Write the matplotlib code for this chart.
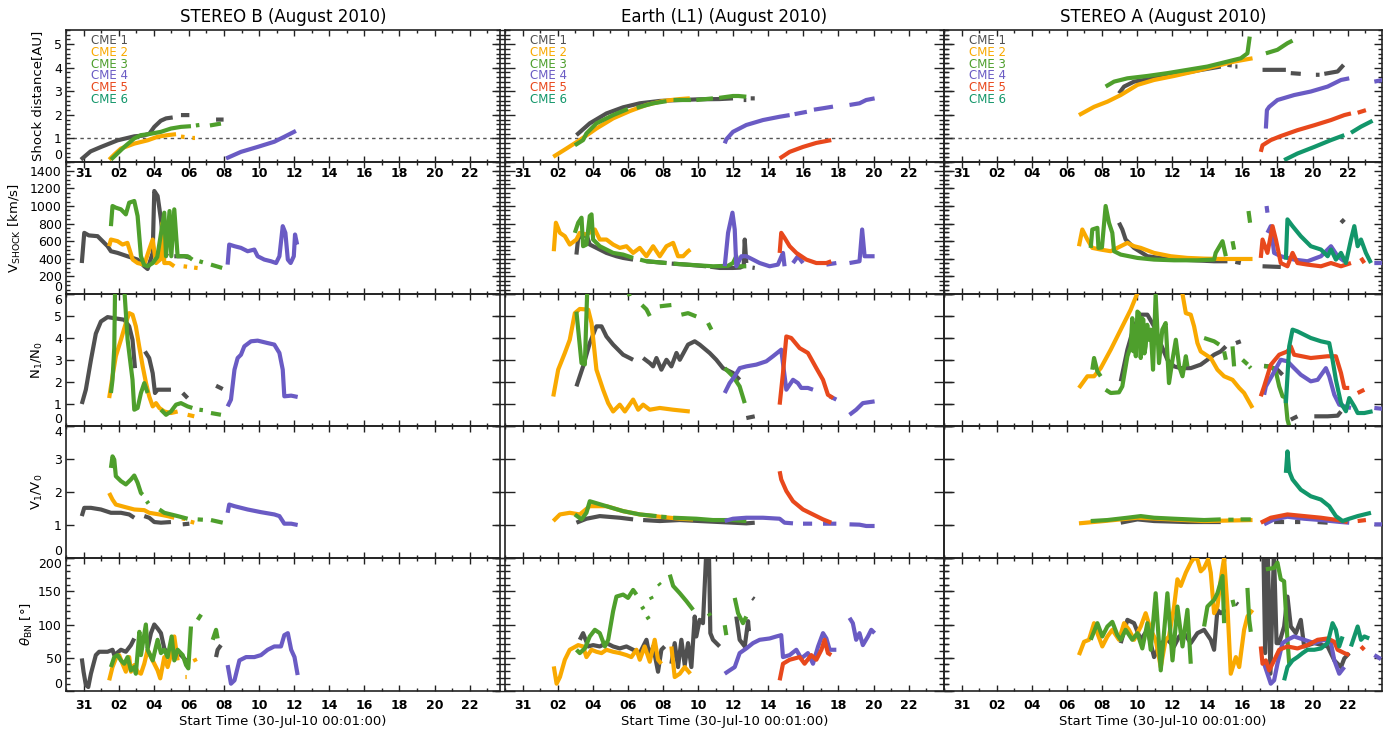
import numpy as np
import matplotlib
matplotlib.use("Agg")
import matplotlib.pyplot as plt
from matplotlib.ticker import FixedLocator, MultipleLocator, FuncFormatter, NullLocator

# ---------------- DATA (time = day of August 2010, Jul 31 00:00 = 0) ----------------
CME_LABELS = ["CME 1", "CME 2", "CME 3", "CME 4", "CME 5", "CME 6"]
CME_COLORS = ["#505050", "#F9A900", "#4E9F2C", "#6A5BC4", "#E8481C", "#12966A"]
TITLES = ["STEREO B (August 2010)", "Earth (L1) (August 2010)", "STEREO A (August 2010)"]
X_TICKS = [0, 2, 4, 6, 8, 10, 12, 14, 16, 18, 20, 22]
X_TICK_LABELS = ["31", "02", "04", "06", "08", "10", "12", "14", "16", "18", "20", "22"]
Y_LABELS = ["Shock distance[AU]", r"V$_{\rm SHOCK}$ [km/s]", r"N$_1$/N$_0$",
            r"V$_1$/V$_0$", r"$\theta_{\rm BN}$ [°]"]
Y_TICKS = [[0, 1, 2, 3, 4, 5], [0, 200, 400, 600, 800, 1000, 1200, 1400],
           [0, 1, 2, 3, 4, 5, 6], [0, 1, 2, 3, 4], [0, 50, 100, 150, 200]]
Y_LIMS = [(0, 5.6), (0, 1500), (0, 6), (0, 4), (0, 200)]
Y_MINOR = [0.2, 50, None, None, 10]
X_LABEL = "Start Time (30-Jul-10 00:01:00)"

# ---- STEREO B ----
B_dist_1 = [(-0.15,0.1),(0.4,0.45),(1.0,0.64),(1.94,0.92),(2.9,1.09),(3.4,1.12),(3.75,1.2),(4.03,1.49),(4.4,1.75),(4.7,1.85),(5.08,1.89),None,(5.55,1.99),(6.03,1.99),None,(7.55,1.8),(7.98,1.8)]
B_dist_2 = [(1.46,0.1),(1.8,0.35),(2.13,0.57),(2.89,0.78),(3.65,0.92),(4.22,1.07),(4.79,1.14),(5.27,1.18),None,(5.55,1.08),(5.75,1.06),None,(6.2,1.02),(6.35,1.02)]
B_dist_3 = [(1.56,0.1),(2.32,0.64),(2.89,1.0),(3.27,1.14),(3.7,1.18),(4.41,1.28),(4.98,1.42),(5.55,1.49),(6.12,1.52),None,(6.4,1.55),(6.6,1.57),None,(7.2,1.55),(7.83,1.63)]
B_dist_4 = [(8.12,0.15),(8.97,0.43),(9.92,0.64),(10.87,0.86),(11.44,1.07),(12.1,1.32)]

B_vsh_1 = [(-0.1,352),(0.04,695),(0.3,666),(0.8,657),(1.37,543),(1.56,486),(1.94,467),(2.5,429),(3.08,391),(3.46,315),(3.65,284),(3.94,467),(4.03,1171),(4.22,1114),(4.41,848),(4.6,467),(4.79,429),None,(5.17,429),(5.74,429),(6.1,410)]
B_vsh_2 = [(1.46,543),(1.56,619),(1.94,600),(2.22,562),(2.5,581),(2.8,391),(3.08,352),(3.46,333),(3.74,505),(3.94,619),(4.13,352),(4.37,391),(4.5,810),(4.6,352),(4.9,352),(5.17,315),None,(5.7,315),(5.9,310),None,(6.3,300),(6.5,295)]
B_vsh_3 = [(1.56,771),(1.65,1000),(1.84,981),(2.13,962),(2.41,905),(2.6,1038),(2.89,1057),(3.08,886),(3.27,429),(3.45,330),(3.65,315),(3.94,352),(4.2,420),(4.6,924),(4.7,429),(4.9,943),(5.0,429),(5.17,962),(5.36,429),(5.6,430),(5.93,429),(6.2,391),None,(6.6,372),(6.8,360),None,(7.26,334),(7.9,296)]
B_vsh_4 = [(8.21,334),(8.3,562),(8.6,543),(8.97,524),(9.35,486),(9.73,505),(9.92,429),(10.3,391),(10.68,372),(10.97,352),(11.16,429),(11.35,771),(11.5,695),(11.64,391),(11.8,352),(11.98,429),(12.05,676),(12.17,562)]

B_nrat_1 = [(-0.1,1.0),(0.13,1.65),(0.42,3.0),(0.7,4.2),(0.99,4.75),(1.37,4.95),(1.75,4.9),(2.32,4.83),(2.6,4.53),(2.79,3.92),(2.93,2.63),None,(3.5,3.39),(3.74,3.09),(3.94,2.4),(4.07,1.5),(4.22,1.65),(4.98,1.65),None,(5.65,1.5),(5.93,1.27),None,(7.55,1.83),(7.93,1.68)]
B_nrat_2 = [(1.46,1.27),(1.65,2.26),(1.84,3.17),(2.13,3.92),(2.41,4.68),(2.6,5.13),(2.79,5.06),(2.98,4.53),(3.17,3.62),(3.37,2.71),(3.56,1.95),(3.74,1.35),(3.94,0.89),(4.13,1.04),(4.32,0.82),(4.6,0.66),(4.98,0.59),(5.36,0.66),None,(5.93,0.51),(6.31,0.44)]
B_nrat_3 = [(1.56,1.5),(1.65,2.1),(1.75,3.54),(1.8,6.5),(2.3,6.5),(2.51,3.92),(2.79,2.1),(2.89,0.74),(3.08,0.82),(3.27,1.5),(3.46,1.95),(3.65,1.5),None,(4.41,0.74),(4.7,0.51),(4.98,0.66),(5.27,0.97),(5.55,1.04),(5.93,0.89),(6.2,0.82),None,(6.6,0.74),(6.8,0.72),None,(7.26,0.59),(7.83,0.51)]
B_nrat_4 = [(8.21,0.89),(8.4,1.2),(8.6,2.56),(8.78,3.09),(8.97,3.24),(9.16,3.62),(9.54,3.85),(9.92,3.88),(10.49,3.77),(10.87,3.7),(11.16,3.32),(11.35,2.56),(11.44,1.35),(11.83,1.38),(12.2,1.32)]

B_vrat_1 = [(-0.1,1.27),(0.04,1.52),(0.42,1.52),(0.99,1.47),(1.56,1.37),(2.13,1.37),(2.6,1.32),(2.89,1.22),None,(3.46,1.27),(3.74,1.22),(4.03,1.09),(4.41,1.07),(4.98,1.09),None,(5.65,1.02),(6.03,1.04)]
B_vrat_2 = [(1.46,1.97),(1.65,1.77),(1.84,1.62),(2.32,1.55),(2.89,1.47),(3.46,1.45),(3.74,1.37),(4.32,1.32),(4.79,1.27),(5.17,1.22),None,(5.6,1.2),(5.8,1.18),None,(6.1,1.1),(6.31,1.07)]
B_vrat_3 = [(1.56,2.73),(1.65,3.08),(1.75,2.98),(1.84,2.48),(2.13,2.33),(2.41,2.23),(2.7,2.38),(2.89,2.5),(3.08,2.28),(3.27,1.97),(3.37,1.92),None,(3.6,1.72),(3.7,1.65),None,(4.32,1.47),(4.6,1.37),(4.98,1.32),(5.36,1.27),(5.93,1.19),None,(6.5,1.17),(6.8,1.16),None,(7.26,1.15),(7.93,1.07)]
B_vrat_4 = [(8.21,1.37),(8.3,1.62),(8.6,1.57),(9.35,1.47),(10.1,1.39),(10.87,1.32),(11.16,1.27),(11.44,1.04),(11.83,1.04),(12.2,1.0)]

B_theta_1 = [(-0.1,49),(0,29),(0.13,9),(0.27,6),(0.42,26),(0.7,54),(0.89,59),(1.37,59),(1.65,62),(1.75,54),(2.13,62),(2.41,59),(2.7,69),(2.89,79),None,(3.65,64),(3.84,87),(4.03,100),(4.22,94),(4.41,87),(4.6,64),(4.79,57),(5.17,59),(5.55,54),(5.84,46),None,(7.55,51),(7.64,62),(7.83,69)]
B_theta_2 = [(1.46,16),(1.65,36),(1.84,49),(2.03,54),(2.22,41),(2.41,29),(2.6,51),(2.7,29),(2.89,39),(3.08,29),(3.27,26),(3.46,41),(3.65,62),(3.84,51),(4.03,41),(4.22,31),(4.37,19),(4.6,51),(4.79,36),(4.98,54),(5.17,82),(5.36,46),None,(5.8,21),(5.88,21),None,(6.31,49),(6.4,44)]
B_theta_3 = [(1.56,36),(1.75,51),(1.94,54),(2.13,46),(2.32,41),(2.51,51),(2.7,31),(2.89,36),(2.98,26),(3.18,89),(3.27,54),(3.55,100),(3.65,62),(3.94,46),(4.22,77),(4.41,57),(4.6,62),(4.79,51),(5.02,82),(5.17,46),(5.36,62),(5.65,54),(5.84,39),(5.97,34),(6.12,97),None,(6.5,107),(6.7,115),None,(7.36,77),(7.55,92),(7.64,79)]
B_theta_4 = [(8.21,39),(8.4,11),(8.6,16),(8.88,46),(9.26,51),(9.73,51),(10.11,54),(10.49,62),(10.87,67),(11.25,67),(11.44,84),(11.64,87),(11.83,62),(12.02,51),(12.2,24)]

# ---- Earth (L1) ----
E_dist_1 = [(3.07,1.14),(3.83,1.64),(4.78,2.06),(5.73,2.32),(6.68,2.49),(7.82,2.59),(8.96,2.63),(10.09,2.66),(11.23,2.67),(11.99,2.7),None,(12.6,2.63),(12.75,2.63),None,(13.0,2.7),(13.23,2.7)]
E_dist_2 = [(1.75,0.22),(2.5,0.57),(3.26,0.93),(4.21,1.42),(5.16,1.85),(6.11,2.16),(7.06,2.42),(8.01,2.59),(8.96,2.67),(9.53,2.7)]
E_dist_3 = [(2.98,0.71),(3.45,0.93),(3.64,1.21),(4.21,1.64),(5.16,1.99),(6.0,2.25),None,(6.5,2.3),(7.44,2.49),(8.2,2.58),None,(8.6,2.63),(9.6,2.63),None,(9.9,2.63),(10.85,2.7),None,(11.2,2.72),(11.99,2.8),(12.3,2.8),(12.75,2.77)]
E_dist_4 = [(11.52,0.79),(11.61,0.96),(11.99,1.28),(12.75,1.57),(13.7,1.78),(14.65,1.92),(15.22,1.99),None,(15.5,2.03),(16.2,2.13),None,(16.6,2.22),(17.12,2.28),(17.69,2.35),None,(18.63,2.42),(19.2,2.49),(19.58,2.63),(20.06,2.7)]
E_dist_5 = [(14.65,0.15),(15.22,0.43),(15.98,0.64),(16.74,0.81),(17.59,0.93)]

E_vsh_1 = [(3.07,448),(3.17,638),(3.45,657),(3.64,676),(3.83,562),(4.21,524),(4.78,467),(5.35,429),(5.73,410),(6.3,391),None,(7.06,372),(8.2,352),None,(8.5,345),(9.34,334),(10.47,315),None,(10.7,310),(11.23,296),(11.99,296),(12.4,300),(12.6,320),(12.66,619),(12.75,352),None,(13.1,300),(13.23,296)]
E_vsh_2 = [(1.78,486),(1.9,810),(2.13,695),(2.41,657),(2.69,562),(3.07,619),(3.26,695),(3.64,676),(4.12,733),(4.4,619),(4.78,619),(5.16,562),(5.54,524),(5.92,543),(6.3,467),(6.68,524),(7.06,429),(7.44,543),(7.82,429),(8.2,543),(8.58,581),(8.86,429),(9.15,429),(9.43,486),(9.56,505)]
E_vsh_3 = [(2.98,695),(3.17,810),(3.36,867),(3.45,543),(3.64,562),(3.83,886),(3.93,905),(4.02,619),(4.4,543),(4.78,505),(5.16,467),(5.73,448),(6.3,410),None,(6.7,390),(7.06,372),(8.2,352),None,(8.6,345),(9.34,334),(10.85,315),(11.7,320),(11.99,352),(12.18,429),(12.28,315),(12.75,315)]
E_vsh_4 = [(11.52,315),(11.71,695),(11.96,924),(12.09,733),(12.18,315),(12.47,429),(12.75,429),(13.13,391),(13.51,352),(14.08,315),(14.55,334),(14.84,467),(14.93,315),None,(15.41,352),(15.69,429),(15.98,352),None,(17.31,334),(17.88,352),None,(18.63,352),(19.2,372),(19.35,733),(19.49,429),(20.06,429)]
E_vsh_5 = [(14.65,467),(14.74,695),(14.93,638),(15.22,543),(15.6,467),(16.17,391),(16.74,352),(17.31,352),(17.59,372)]

E_nrat_1 = [(3.07,1.8),(3.45,2.71),(3.83,3.77),(4.21,4.53),(4.5,4.53),(4.78,4.07),(5.16,3.7),(5.73,3.24),(6.3,3.01),None,(6.87,3.09),(7.25,2.86),(7.44,2.71),(7.63,3.09),(7.91,2.56),(8.2,3.01),(8.48,2.71),(8.77,3.32),(8.96,3.01),(9.43,3.7),(9.81,3.85),(10.09,3.7),(10.66,3.32),(11.04,3.01),(11.42,2.63),(11.99,2.41),(12.37,2.1),None,(12.75,0.36),(13.23,0.44)]
E_nrat_2 = [(1.75,1.34),(2.03,2.56),(2.41,3.32),(2.69,3.92),(2.98,5.13),(3.26,5.32),(3.74,5.29),(3.93,4.68),(4.21,2.56),(4.59,1.65),(4.88,1.04),(5.16,0.66),(5.54,0.97),(5.83,0.66),(6.3,1.2),(6.59,0.74),(6.87,0.97),(7.25,0.74),(7.82,0.82),(8.58,0.74),(9.53,0.66)]
E_nrat_3 = [(3.07,5.2),(3.36,2.86),(3.55,2.8),(3.6,4.07),(3.7,6.5),None,(5.9,6.5),(6.1,5.9),None,(6.8,5.5),(7.06,5.3),(7.25,5.0),None,(7.82,5.44),(8.48,5.5),None,(9.05,5.06),(9.43,5.13),(9.9,4.98),None,(10.57,4.68),(10.76,4.38),None,(11.52,2.63),(11.99,2.26),(12.37,1.8),(12.66,1.04)]
E_nrat_4 = [(11.52,1.5),(11.8,1.95),(12.09,2.26),(12.37,2.63),(12.75,2.71),(13.32,2.79),(13.89,2.94),(14.27,3.17),(14.74,3.47),(15.03,1.65),(15.41,2.1),(15.69,1.95),(15.88,1.73),(16.26,1.73),(16.55,1.65),None,(17.5,1.35),(17.88,1.2),None,(18.63,0.51),(19.01,0.74),(19.39,1.04),(20.06,1.12)]
E_nrat_5 = [(14.65,0.97),(14.84,2.41),(15.03,4.07),(15.31,4.0),(15.79,3.54),(16.26,3.32),(16.74,2.63),(17.12,2.1),(17.4,1.42),(17.69,1.27)]

E_vrat_1 = [(3.07,1.07),(3.64,1.19),(4.4,1.27),(5.54,1.22),(6.3,1.17),None,(6.87,1.15),(7.82,1.12),(8.96,1.15),(10.09,1.12),(11.23,1.09),(11.99,1.07),(12.75,1.05),(13.23,1.07)]
E_vrat_2 = [(1.75,1.12),(2.13,1.32),(2.69,1.37),(3.26,1.32),(3.83,1.57),(4.78,1.57),(5.73,1.42),(6.68,1.32),(7.82,1.25),(8.96,1.19),(9.72,1.17)]
E_vrat_3 = [(2.98,1.32),(3.36,1.17),(3.64,1.37),(3.83,1.72),(4.78,1.57),(5.73,1.42),(6.68,1.32),(7.63,1.27),None,(7.9,1.25),(8.2,1.24),None,(8.58,1.22),(9.91,1.19),(10.85,1.15),(11.99,1.15),(12.75,1.12)]
E_vrat_4 = [(11.52,1.12),(11.99,1.19),(12.75,1.22),(13.7,1.22),(14.65,1.19),(14.93,1.07),(15.41,1.05),None,(15.98,1.04),(16.5,1.04),None,(17.12,1.04),(17.88,1.04),None,(18.63,1.02),(19.2,1.01),(19.58,0.97),(20.06,0.97)]
E_vrat_5 = [(14.65,2.63),(14.74,2.38),(15.03,2.03),(15.41,1.72),(15.98,1.47),(16.55,1.32),(17.12,1.17),(17.59,1.07)]

E_theta_1 = [(3.26,77),(3.45,87),(3.74,67),(4.02,69),(4.4,67),(4.78,72),(5.16,67),(5.54,64),(5.92,67),(6.3,62),(6.68,57),(7.06,77),(7.25,51),(7.44,67),(7.72,29),(7.91,62),(8.1,67),None,(8.48,41),(8.67,72),(8.86,36),(9.05,77),(9.24,39),(9.43,72),(9.62,36),(9.81,112),(9.9,82),(10.09,107),(10.28,102),(10.47,210),(10.62,210),(10.7,87),(10.85,77),(11.23,67),None,(12.18,112),(12.37,77),(12.66,67),(12.85,105),(12.9,90),None,(13.1,140),(13.2,138)]
E_theta_2 = [(1.78,37),(1.94,11),(2.13,21),(2.41,47),(2.69,62),(3.17,69),(3.45,67),(3.64,51),(3.93,62),(4.21,59),(4.5,57),(4.78,62),(5.16,59),(5.54,57),(5.92,54),(6.2,51),(6.49,62),(6.68,47),(6.96,67),(7.25,44),(7.53,77),(7.72,47),(7.91,41),None,(8.48,67),(8.67,21),(8.96,26),(9.24,36),(9.56,26)]
E_theta_3 = [(3.07,62),(3.26,57),(3.55,64),(3.83,82),(4.12,92),(4.4,87),(4.69,67),(4.88,77),(5.16,120),(5.35,142),(5.73,145),(6.01,140),(6.3,152),(6.49,145),None,(6.8,127),(6.9,123),None,(7.1,112),(7.2,108),None,(7.3,142),(7.38,138),None,(7.75,162),(7.85,159),None,(8.39,175),(8.58,158),(8.96,147),(9.34,135),(9.72,122),None,(10.6,117),(10.7,113),None,(11.52,99),(11.61,84),None,(12.09,140),(12.28,117),(12.56,102),(12.75,112)]
E_theta_4 = [(11.52,26),(11.8,31),(12.09,36),(12.37,57),(12.75,64),(13.13,72),(13.51,77),(14.08,79),(14.46,82),(14.74,84),(14.84,51),(15.22,54),(15.6,62),(15.88,49),(16.26,57),(16.55,41),(16.84,67),(17.12,87),(17.31,79),(17.5,62),(17.88,62),None,(18.63,110),(18.82,102),(19.01,77),(19.2,87),(19.39,69),(19.68,82),(19.87,92),(20.06,87)]
E_theta_5 = [(14.65,16),(14.84,41),(15.22,47),(15.79,51),(16.07,41),(16.45,54),(16.74,47),(17.03,62),(17.21,77),(17.4,57),(17.59,54)]

# ---- STEREO A ----
A_dist_1 = [(8.97,2.91),(9.26,3.2),(9.83,3.41),(10.97,3.55),(12.11,3.7),(13.44,3.88),(14.77,4.05),None,(15.15,4.12),(15.4,4.1),None,(15.6,4.05),(15.72,4.05),None,(17.15,3.91),(17.81,3.91),(18.48,3.91),None,(18.76,3.77),(19.33,3.74),None,(20.19,3.7),(20.4,3.7),None,(20.67,3.74),(21.43,3.84),(21.77,4.12)]
A_dist_2 = [(6.69,1.99),(7.55,2.34),(8.31,2.56),(9.07,2.84),(10.02,3.27),(10.97,3.48),(12.11,3.65),(13.25,3.84),(14.39,4.05),(15.53,4.26),(16.58,4.4)]
A_dist_3 = [(8.21,3.2),(8.69,3.41),(9.45,3.55),(10.59,3.65),(11.73,3.77),(12.87,3.91),(14.01,4.05),(15.15,4.26),(15.91,4.4),(16.29,4.61),(16.42,5.32),None,(17.34,4.61),(18.0,4.76),(18.57,5.04),(18.86,5.15)]
A_dist_4 = [(17.34,1.42),(17.4,2.2),(17.53,2.34),(18.0,2.63),(18.95,2.84),(19.9,2.99),(20.86,3.2),(21.62,3.48),(22.09,3.55),None,(23.52,3.41),(24.0,3.48)]
A_dist_5 = [(17.05,0.43),(17.15,0.71),(17.62,0.93),(18.19,1.1),(19.14,1.35),(20.1,1.56),(21.05,1.78),(21.81,1.99),(22.19,2.06),None,(22.57,2.09),(23.04,2.2)]
A_dist_6 = [(18.38,0.08),(19.14,0.36),(20.1,0.64),(21.05,0.93),(21.81,1.14),None,(22.19,1.24),(22.76,1.5),(23.42,1.75)]

A_vsh_1 = [(8.97,810),(9.16,733),(9.35,619),(9.83,524),(10.59,429),(11.73,398),(13.25,383),(14.39,372),(15.15,372),None,(15.6,365),(15.91,352),None,(17.15,315),(18.19,307),None,(21.62,810),(21.81,848)]
A_vsh_2 = [(6.69,543),(6.88,733),(7.17,619),(7.45,524),(7.93,505),(8.5,486),(9.07,543),(9.45,581),(9.83,543),(10.21,524),(10.97,467),(11.92,429),(12.87,410),(13.82,402),(14.77,398),(15.72,398),(16.58,398)]
A_vsh_3 = [(7.36,524),(7.45,733),(7.74,752),(7.8,524),(8.0,530),(8.21,1000),(8.4,810),(8.59,695),(8.69,486),(9.07,448),(10.02,410),(10.97,391),(12.11,383),(13.44,383),(14.39,391),(14.48,467),(14.87,600),(15.06,429),None,(15.44,600),(15.53,505),None,(16.35,943),(16.44,810)]
A_vsh_4 = [(17.38,1000),(17.43,924),None,(17.43,695),(17.62,771),(17.81,467),(18.19,429),(18.95,391),(19.71,372),(20.48,429),(21.05,543),(21.43,429),(21.81,372),None,(23.52,352),(24.0,352)]
A_vsh_5 = [(17.05,410),(17.15,619),(17.43,467),(17.72,771),(17.91,619),(18.19,352),(18.57,315),(18.86,467),(19.14,352),(19.71,334),(20.48,315),(21.05,352),(21.62,315),(22.19,352),None,(22.76,410),(22.95,352)]
A_vsh_6 = [(18.48,391),(18.57,848),(18.86,771),(19.33,657),(19.9,543),(20.48,505),(20.86,429),(21.05,505),(21.33,391),(21.62,467),(21.9,352),(22.19,619),(22.38,771),(22.57,543),(22.76,619),(23.04,467),(23.33,352)]

A_nrat_1 = [(9.07,2.03),(9.45,3.47),(9.83,4.53),(10.21,5.06),(10.59,5.06),(10.97,4.53),(11.25,3.92),(11.73,3.01),(12.11,2.71),(12.49,2.63),(13.06,2.63),(13.63,2.79),(14.01,3.01),(14.39,3.24),(14.77,3.39),(15.06,3.62),None,(15.63,3.77),(15.91,3.85),None,(17.24,2.74),(17.62,2.68),(18.0,2.56),(18.29,2.33),None,(18.76,0.29),(19.14,0.44),None,(20.1,0.44),(20.86,0.44),(21.43,0.47),(21.62,0.66)]
A_nrat_2 = [(6.69,1.73),(7.17,2.26),(7.55,2.26),(7.93,2.63),(8.5,3.47),(9.07,4.38),(9.64,5.29),(10.02,6.04),(10.2,6.5),None,(12.5,6.5),(12.59,6.0),(12.78,5.13),(13.06,5.06),(13.25,4.53),(13.44,3.77),(13.63,3.39),(14.2,3.09),(14.58,2.56),(14.96,2.26),(15.44,2.1),(15.82,1.73),(16.1,1.5),(16.58,0.82)]
A_nrat_3 = [(7.45,2.56),(7.55,3.09),(7.74,2.48),(7.93,2.26),None,(8.21,1.65),(8.5,1.5),(8.97,1.53),(9.16,1.8),(9.45,3.17),(9.64,3.62),(9.73,4.9),(9.78,3.4),(9.83,4.53),(9.93,3.17),(10.02,5.2),(10.11,5.13),(10.21,3.09),(10.28,4.9),(10.36,4.83),(10.42,3.3),(10.49,3.62),(10.58,4.6),(10.68,3.92),(10.78,4.38),(10.91,2.56),(11.06,5.97),(11.25,2.86),(11.44,4.38),(11.63,4.68),(11.82,1.95),(12.02,3.01),(12.21,3.92),(12.4,2.71),(12.59,2.26),(12.78,3.17),(12.87,2.71),None,(13.82,4.0),(14.39,3.85),(14.68,3.7),None,(14.96,3.39),(15.06,3.01),None,(15.44,3.62),(15.53,2.71),None,(16.01,3.01),(16.3,2.8),None,(16.4,2.7),(16.48,2.63),None,(17.24,2.71),(17.62,2.71),(17.91,2.48),(18.1,1.8),(18.29,1.35),(18.45,1.3),(18.57,0.29),(18.67,0.0)]
A_nrat_4 = [(17.24,1.42),(17.34,1.8),(17.72,2.33),(18.19,3.01),(18.57,2.94),(18.95,2.63),(19.33,2.33),(19.9,2.03),(20.29,2.1),(20.76,2.63),(20.95,2.26),(21.24,1.42),(21.52,0.97),(21.81,0.89),(22.19,0.82),None,(23.52,0.82),(24.0,0.78)]
A_nrat_5 = [(17.05,1.35),(17.24,1.8),(17.62,2.78),(18.1,3.24),(18.57,3.39),(18.76,3.62),(18.95,3.24),(19.9,3.09),(20.86,3.17),(21.33,3.17),(21.62,2.41),(21.81,1.73),(22.09,1.73),None,(22.57,1.5),(22.95,1.65)]
A_nrat_6 = [(18.48,1.04),(18.57,2.26),(18.67,3.62),(18.86,4.38),(19.14,4.3),(19.9,4.0),(20.48,3.85),(20.95,3.77),(21.14,3.01),(21.33,2.1),(21.62,1.04),(21.9,0.67),(22.09,1.27),(22.38,0.89),(22.57,0.59),(22.95,0.59),(23.42,0.67)]

A_vrat_1 = [(9.07,1.07),(10.02,1.17),(10.97,1.12),(12.87,1.09),(14.77,1.09),None,(17.81,1.09),(18.38,1.09),None,(19.0,1.09),(19.3,1.09),None,(20.29,1.09),(20.86,1.07)]
A_vrat_2 = [(6.69,1.05),(8.12,1.12),(10.02,1.22),(11.92,1.17),(13.82,1.12),(15.72,1.14),(16.58,1.15)]
A_vrat_3 = [(7.36,1.12),(8.31,1.15),(9.45,1.22),(10.21,1.27),(10.97,1.22),(12.11,1.19),(13.82,1.15),(14.77,1.17),None,(15.2,1.16),(15.5,1.16),None,(15.9,1.17),(16.48,1.17)]
A_vrat_4 = [(17.24,1.02),(17.81,1.17),(18.57,1.25),(19.52,1.19),(20.48,1.15),(21.62,1.09),(22.09,1.07),None,(23.52,1.02),(24.0,1.02)]
A_vrat_5 = [(17.05,1.07),(17.62,1.22),(18.57,1.32),(19.52,1.27),(20.48,1.22),(21.43,1.15),(22.0,1.09),None,(22.57,1.12),(23.04,1.15)]
A_vrat_6 = [(18.48,2.58),(18.57,3.23),(18.67,2.63),(18.86,2.38),(19.33,2.07),(19.9,1.87),(20.48,1.77),(20.95,1.57),(21.33,1.27),(21.71,1.12),(22.09,1.19),(22.57,1.27),(23.33,1.37)]

A_theta_1 = [(9.07,72),(9.45,107),(9.83,102),(10.21,77),(10.59,92),(10.97,51),(11.35,72),(11.73,77),(12.11,67),(12.4,82),(12.68,87),(13.06,72),(13.44,87),(13.82,92),(14.2,77),(14.39,62),(14.58,122),(14.77,117),(15.06,122),None,(15.65,132),(15.75,130),None,(17.2,210),(17.3,57),(17.45,210),(17.6,26),(17.8,210),(17.95,72),(18.1,72),(18.38,97),(18.57,142),(18.76,97),(19.05,87),(19.33,107),(19.52,67),(20.1,72),(20.86,67),(21.24,46),(21.62,36),(21.81,49),(22.09,57)]
A_theta_2 = [(6.69,54),(6.98,74),(7.26,77),(7.55,102),(7.74,87),(8.02,67),(8.31,82),(8.59,92),(8.97,77),(9.26,102),(9.54,92),(9.83,77),(10.21,97),(10.49,117),(10.78,92),(11.06,77),(11.35,36),(11.63,77),(11.82,82),(12.11,127),(12.3,168),(12.49,158),(12.78,178),(13.06,193),(13.25,200),(13.44,198),(13.63,180),(13.82,185),(14.05,198),(14.2,178),(14.39,117),(14.58,127),(14.77,168),(14.96,200),(15.15,127),(15.34,26),(15.63,51),(15.82,36),(16.1,92),(16.29,112),(16.58,122)]
A_theta_3 = [(7.36,77),(7.74,102),(8.02,82),(8.31,97),(8.59,104),(8.88,84),(9.07,77),(9.35,92),(9.73,77),(10.02,87),(10.3,64),(10.59,102),(10.78,62),(11.06,147),(11.35,31),(11.73,147),(12.02,46),(12.3,127),(12.59,67),(12.87,122),(13.06,41),None,(13.82,97),(14.01,127),(14.39,137),(14.58,147),(14.87,173),(14.96,102),None,(15.44,137),(15.53,127),None,(16.29,155),(16.39,107),(16.48,89),None,(17.34,183),(17.81,185),(18.0,193),(18.19,168),(18.38,165),(18.57,77),(18.67,41)]
A_theta_4 = [(17.24,41),(17.43,26),(17.62,11),(17.81,16),(18.0,41),(18.29,72),(18.57,77),(18.95,82),(19.52,77),(20.1,72),(20.67,77),(21.05,72),(21.24,46),(21.52,26),(21.81,36),None,(23.52,54),(23.9,48)]
A_theta_5 = [(17.05,67),(17.15,41),(17.34,46),(17.53,31),(17.81,46),(18.1,62),(18.57,67),(19.14,64),(19.71,69),(20.29,77),(20.86,79),(21.24,74),(21.43,62),(21.81,57),(22.09,54),None,(22.76,67),(22.95,62)]
A_theta_6 = [(18.38,16),(18.57,36),(18.86,46),(19.14,51),(19.43,57),(19.71,62),(20.1,62),(20.48,64),(20.86,72),(21.14,102),(21.33,92),(21.52,67),(21.71,82),None,(22.19,67),(22.38,82),(22.57,97),(22.76,77),(22.95,82),(23.23,79)]

# panel lookup built from the named series (row order: dist, vsh, nrat, vrat, theta)
PANEL_SERIES = [
    [  # STEREO B
        [B_dist_1, B_dist_2, B_dist_3, B_dist_4, None, None],
        [B_vsh_1, B_vsh_2, B_vsh_3, B_vsh_4, None, None],
        [B_nrat_1, B_nrat_2, B_nrat_3, B_nrat_4, None, None],
        [B_vrat_1, B_vrat_2, B_vrat_3, B_vrat_4, None, None],
        [B_theta_1, B_theta_2, B_theta_3, B_theta_4, None, None],
    ],
    [  # Earth
        [E_dist_1, E_dist_2, E_dist_3, E_dist_4, E_dist_5, None],
        [E_vsh_1, E_vsh_2, E_vsh_3, E_vsh_4, E_vsh_5, None],
        [E_nrat_1, E_nrat_2, E_nrat_3, E_nrat_4, E_nrat_5, None],
        [E_vrat_1, E_vrat_2, E_vrat_3, E_vrat_4, E_vrat_5, None],
        [E_theta_1, E_theta_2, E_theta_3, E_theta_4, E_theta_5, None],
    ],
    [  # STEREO A
        [A_dist_1, A_dist_2, A_dist_3, A_dist_4, A_dist_5, A_dist_6],
        [A_vsh_1, A_vsh_2, A_vsh_3, A_vsh_4, A_vsh_5, A_vsh_6],
        [A_nrat_1, A_nrat_2, A_nrat_3, A_nrat_4, A_nrat_5, A_nrat_6],
        [A_vrat_1, A_vrat_2, A_vrat_3, A_vrat_4, A_vrat_5, A_vrat_6],
        [A_theta_1, A_theta_2, A_theta_3, A_theta_4, A_theta_5, A_theta_6],
    ],
]


def to_xy(pts):
    t = np.array([np.nan if p is None else p[0] for p in pts], float)
    v = np.array([np.nan if p is None else p[1] for p in pts], float)
    return t, v


# ---------------- LAYOUT ----------------
W, H = 1388, 732
fig = plt.figure(figsize=(W / 100, H / 100), dpi=100)
plt.rcParams['font.family'] = ['DejaVu Sans']

COL_PX = [(66, 500), (505, 944), (944, 1382)]
ROW_PX = [(30, 162), (162, 294), (294, 426), (426, 558), (558, 691)]
PX_PER_DAY = 17.55
YLABEL_X = [-0.0645, -0.118, -0.066, -0.065, -0.09]

for ci, (x0, x1) in enumerate(COL_PX):
    for ri, (y0, y1) in enumerate(ROW_PX):
        ax = fig.add_axes([x0 / W, 1 - y1 / H, (x1 - x0) / W, (y1 - y0) / H])
        ax.set_facecolor('none')
        ax.set_xlim(-1, -1 + (x1 - x0) / PX_PER_DAY)
        ax.set_ylim(*Y_LIMS[ri])
        for s in ax.spines.values():
            s.set_linewidth(1.2)
            s.set_color('#222222')

        if ri == 0:
            ax.axhline(1.0, color='#555555', lw=1.0, ls=(0, (2.5, 2.5)), zorder=1)

        for k, series in enumerate(PANEL_SERIES[ci][ri]):
            if series is None:
                continue
            t, v = to_xy(series)
            ax.plot(t, v, color=CME_COLORS[k], lw=3.0, solid_joinstyle='round',
                    solid_capstyle='butt', zorder=2 + k)

        # x ticks
        ax.xaxis.set_major_locator(FixedLocator(X_TICKS))
        ax.xaxis.set_minor_locator(MultipleLocator(1))
        ax.xaxis.set_major_formatter(FuncFormatter(
            lambda v, p: X_TICK_LABELS[X_TICKS.index(int(round(v)))] if int(round(v)) in X_TICKS else ''))
        show_x = ri in (0, 4)
        ax.tick_params(axis='x', which='both', direction='in', top=True, bottom=True,
                       labelbottom=show_x, labelsize=9, width=1.0, color='#222222',
                       pad=(3.5 if ri == 0 else 6.0))
        ax.tick_params(axis='x', which='major', length=4.3)
        ax.tick_params(axis='x', which='minor', length=2.2)
        for lab in ax.get_xticklabels():
            lab.set_fontweight('bold')

        # y ticks
        ax.yaxis.set_major_locator(FixedLocator(Y_TICKS[ri]))
        if Y_MINOR[ri]:
            ax.yaxis.set_minor_locator(MultipleLocator(Y_MINOR[ri]))
        else:
            ax.yaxis.set_minor_locator(NullLocator())
        if ci == 1:
            ax.tick_params(axis='y', which='both', direction='inout', left=True, right=True,
                           labelleft=False, width=1.0, color='#222222')
            ax.tick_params(axis='y', which='major', length=14)
            ax.tick_params(axis='y', which='minor', length=7)
        else:
            ax.tick_params(axis='y', which='both', direction='in', left=True, right=True,
                           labelleft=(ci == 0), labelsize=9, width=1.0, color='#222222', pad=3)
            ax.tick_params(axis='y', which='major', length=5.8)
            ax.tick_params(axis='y', which='minor', length=2.9)

        if ci == 0:
            ax.set_ylabel(Y_LABELS[ri], fontsize=9.5, va='center')
            ax.yaxis.set_label_coords(YLABEL_X[ri], 0.5)
            # nudge the edge labels inwards, as in the original layout
            labs = ax.get_yticklabels()
            labs[0].set_verticalalignment('bottom')
            if Y_TICKS[ri][-1] == Y_LIMS[ri][1]:
                labs[-1].set_verticalalignment('top')

        if ri == 0:
            for k, lab in enumerate(CME_LABELS):
                ax.text(0.058, 0.919 - k * 0.0887, lab, color=CME_COLORS[k],
                        fontsize=8.5, ha='left', va='center', transform=ax.transAxes)

    xc = (x0 + x1) / 2 / W
    fig.text(xc, 1 - 17 / H, TITLES[ci], ha='center', va='center', fontsize=12)
    fig.text(xc, 1 - 722 / H, X_LABEL, ha='center', va='center', fontsize=9.5)

fig.savefig('out.png', dpi=100)
